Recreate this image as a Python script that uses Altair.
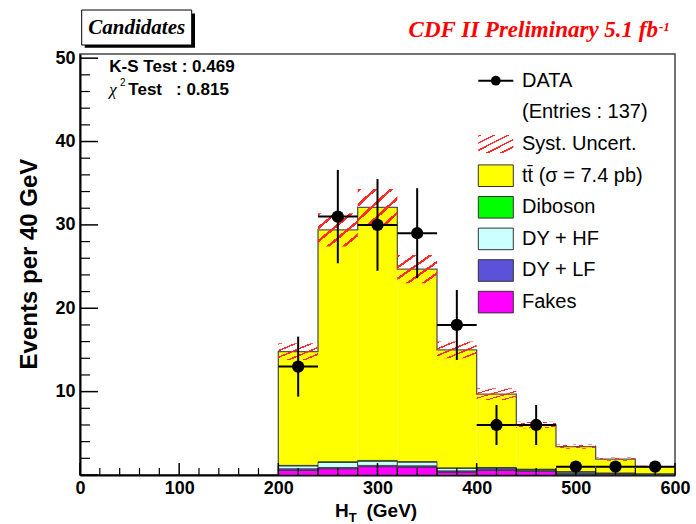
import altair as alt
import pandas as pd

# ---------------- data ----------------
bin_low = [200, 240, 280, 320, 360, 400, 440, 480, 520, 560]
bin_width = 40
data_counts = [13, 31, 30, 29, 18, 6, 6, 1, 1, 1]
data_err = [3.6, 5.6, 5.5, 5.4, 4.2, 2.4, 2.4, 0, 0, 0]

fakes = [0.55, 0.75, 1.0, 0.95, 0.35, 0.55, 0.45, 0.05, 0.03, 0.02]
dy_lf = [0.2, 0.15, 0.15, 0.15, 0.15, 0.2, 0.1, 0.15, 0.1, 0.05]
dy_hf = [0.35, 0.6, 0.5, 0.45, 0.3, 0.1, 0.1, 0.15, 0.07, 0.03]
diboson = [0.05, 0.1, 0.1, 0.05, 0.05, 0.05, 0.05, 0.05, 0.02, 0.02]
ttbar = [13.65, 27.8, 30.35, 23.1, 14.15, 8.8, 5.3, 3.0, 1.68, 0.88]
syst_unc = [1.0, 2.0, 2.2, 1.7, 1.0, 0.7, 0.4, 0.25, 0.2, 0.1]

components = ["Fakes", "DY + LF", "DY + HF", "Diboson", "ttbar"]
comp_values = [fakes, dy_lf, dy_hf, diboson, ttbar]
comp_colors = ["#ff00ff", "#5b52d9", "#ccffff", "#00ff00", "#ffff00"]

legend_labels = ["DATA", "(Entries : 137)", "Syst. Uncert.", "tt\u0304 (\u03c3 = 7.4 pb)",
                 "Diboson", "DY + HF", "DY + LF", "Fakes"]
legend_box_colors = [None, None, "hatch", "#ffff00", "#00ff00", "#ccffff", "#5b52d9", "#ff00ff"]

x_major = [0, 100, 200, 300, 400, 500, 600]
x_minor = [20, 40, 60, 80, 120, 140, 160, 180, 220, 240, 260, 280, 320, 340, 360, 380,
           420, 440, 460, 480, 520, 540, 560, 580]
y_major = [0, 10, 20, 30, 40, 50]
y_minor = [2, 4, 6, 8, 12, 14, 16, 18, 22, 24, 26, 28, 32, 34, 36, 38, 42, 44, 46, 48]
y_labels = [10, 20, 30, 40, 50]

# ---------------- layout / style ----------------
W, H = 595, 421
SANS = "Liberation Sans"
SERIF = "Liberation Serif"
RED = "#ff2a2a"

xs = alt.Scale(domain=[0, 600], nice=False, zero=False)
ys = alt.Scale(domain=[0, 50.5], nice=False, zero=False)
xaxis = alt.Axis(values=x_major, title="", ticks=False, grid=False, format="d", labelFlush=False,
                 labelOverlap=False,
                 labelFont=SANS, labelFontSize=18, labelFontWeight="bold", labelColor="black",
                 labelPadding=4, domainColor="black", domainWidth=2)
yaxis = alt.Axis(values=y_labels, title="", ticks=False, grid=False, format="d", labelFlush=False,
                 labelOverlap=False,
                 labelFont=SANS, labelFontSize=18, labelFontWeight="bold", labelColor="black",
                 labelPadding=5, domainColor="black", domainWidth=2)

def X(field):
    return alt.X(field, scale=xs, axis=xaxis)

def Y(field):
    return alt.Y(field, scale=ys, axis=yaxis)

# hatch pattern as a striped linear gradient
N = 5
stops = []
for k in range(N):
    a = k / N
    b = (k + 0.24) / N
    c = (k + 1) / N
    stops += [{"offset": a, "color": RED}, {"offset": b, "color": RED},
              {"offset": b, "color": "rgba(255,255,255,0)"}, {"offset": c, "color": "rgba(255,255,255,0)"}]
hatch = {"gradient": "linear", "x1": 0, "y1": 0, "x2": 1, "y2": 1, "stops": stops}

# ---------------- tables ----------------
rows = []
cum = [0.0] * len(bin_low)
for comp, vals in zip(components, comp_values):
    for i, lo in enumerate(bin_low):
        rows.append({"lo": lo, "hi": lo + bin_width, "y0": cum[i], "y1": cum[i] + vals[i], "comp": comp})
        cum[i] += vals[i]
stack_df = pd.DataFrame(rows)
total = cum

step_x = [bin_low[0]] + bin_low + [bin_low[-1] + bin_width]
step_y = [0] + total + [total[-1]]
step_df = pd.DataFrame({"x": step_x, "y": step_y, "i": list(range(len(step_x)))})

band_df = pd.DataFrame({
    "lo": bin_low,
    "hi": [b + bin_width for b in bin_low],
    "ylo": [t - s for t, s in zip(total, syst_unc)],
    "yhi": [t + s for t, s in zip(total, syst_unc)],
})

data_df = pd.DataFrame({
    "lo": bin_low,
    "hi": [b + bin_width for b in bin_low],
    "c": [b + bin_width / 2 for b in bin_low],
    "n": data_counts,
    "elo": [n - e for n, e in zip(data_counts, data_err)],
    "ehi": [n + e for n, e in zip(data_counts, data_err)],
    "e": data_err,
})

one = alt.Data(values=[{"a": 0}])

# ---------------- layers ----------------
layers = []

lower = stack_df[stack_df.comp != "ttbar"]
upper = stack_df[stack_df.comp == "ttbar"]
color_scale = alt.Scale(domain=components, range=comp_colors)

layers.append(alt.Chart(upper).mark_rect(strokeWidth=0).encode(
    x=X("lo:Q"), x2="hi:Q", y=Y("y0:Q"), y2="y1:Q",
    fill=alt.Fill("comp:N", scale=color_scale, legend=None)))
layers.append(alt.Chart(lower).mark_rect(stroke="#333333", strokeWidth=0.8).encode(
    x=X("lo:Q"), x2="hi:Q", y=Y("y0:Q"), y2="y1:Q",
    fill=alt.Fill("comp:N", scale=color_scale, legend=None)))

layers.append(alt.Chart(step_df).mark_line(interpolate="step-after", color="#555555", strokeWidth=1.3).encode(
    x=X("x:Q"), y=Y("y:Q"), order="i:Q"))

layers.append(alt.Chart(band_df).mark_rect(fill=hatch, strokeWidth=0).encode(
    x=X("lo:Q"), x2="hi:Q", y=Y("ylo:Q"), y2="yhi:Q"))

# axis ticks (inside the frame)
layers.append(alt.Chart(pd.DataFrame({"v": x_major})).mark_rule(color="black", strokeWidth=1.5).encode(
    x=X("v:Q"), y=alt.value(H), y2=alt.value(H - 12)))
layers.append(alt.Chart(pd.DataFrame({"v": x_minor})).mark_rule(color="black", strokeWidth=1.2).encode(
    x=X("v:Q"), y=alt.value(H), y2=alt.value(H - 7)))
layers.append(alt.Chart(pd.DataFrame({"v": y_major})).mark_rule(color="black", strokeWidth=1.5).encode(
    y=Y("v:Q"), x=alt.value(0), x2=alt.value(18)))
layers.append(alt.Chart(pd.DataFrame({"v": y_minor})).mark_rule(color="black", strokeWidth=1.2).encode(
    y=Y("v:Q"), x=alt.value(0), x2=alt.value(10)))

# data with error bars
layers.append(alt.Chart(data_df).mark_rule(color="black", strokeWidth=2).encode(
    x=X("lo:Q"), x2="hi:Q", y=Y("n:Q")))
layers.append(alt.Chart(data_df[data_df.e > 0]).mark_rule(color="black", strokeWidth=2).encode(
    x=X("c:Q"), y=Y("elo:Q"), y2="ehi:Q"))
layers.append(alt.Chart(data_df).mark_point(filled=True, shape="circle", size=150, color="black", opacity=1).encode(
    x=X("c:Q"), y=Y("n:Q")))

# ---------------- legend ----------------
LX0, LX1, LT = 398.3, 433.3, 442
for i, (lab, col) in enumerate(zip(legend_labels, legend_box_colors)):
    base = 32.7 + 31.6 * i
    mid = base - 5.8
    layers.append(alt.Chart(one).mark_text(text=lab, align="left", baseline="alphabetic",
                                           font=SANS, fontSize=20, color="black").encode(
        x=alt.value(LT), y=alt.value(base)))
    if col == "hatch":
        layers.append(alt.Chart(one).mark_rect(fill=hatch, strokeWidth=0).encode(
            x=alt.value(LX0), x2=alt.value(LX1), y=alt.value(mid - 9), y2=alt.value(mid + 9)))
    elif col is not None:
        layers.append(alt.Chart(one).mark_rect(fill=col, stroke="#333333", strokeWidth=1).encode(
            x=alt.value(LX0), x2=alt.value(LX1), y=alt.value(mid - 10.8), y2=alt.value(mid + 10.8)))
layers.append(alt.Chart(one).mark_rule(color="black", strokeWidth=2).encode(
    x=alt.value(LX0), x2=alt.value(LX1), y=alt.value(26.7)))
layers.append(alt.Chart(one).mark_point(filled=True, shape="circle", size=95, color="black", opacity=1).encode(
    x=alt.value((LX0 + LX1) / 2), y=alt.value(26.7)))

# ---------------- texts ----------------
def txt(s, x, y, size, weight="normal", style="normal", font=SANS, color="black", align="left", angle=0):
    return alt.Chart(one).mark_text(text=s, align=align, baseline="alphabetic", font=font,
                                    fontSize=size, fontWeight=weight, fontStyle=style,
                                    color=color, angle=angle).encode(x=alt.value(x), y=alt.value(y))

layers.append(txt("K-S Test : 0.469", 29.3, 17.7, 17, "bold"))
layers.append(txt("\u03c7", 29.3, 41, 17, style="italic", font=SERIF))
layers.append(txt("2", 40, 32, 10))
layers.append(txt("Test", 48.3, 41, 17, "bold"))
layers.append(txt(": 0.815", 96, 41, 17, "bold"))

# title box "Candidates"
layers.append(alt.Chart(one).mark_rect(fill="black").encode(
    x=alt.value(4.7), x2=alt.value(115), y=alt.value(-40.5), y2=alt.value(-6.3)))
layers.append(alt.Chart(one).mark_rect(fill="white", stroke="black", strokeWidth=1).encode(
    x=alt.value(1.7), x2=alt.value(111.7), y=alt.value(-44), y2=alt.value(-9)))
layers.append(txt("Candidates", 56.7, -20, 21, "bold", "italic", SERIF, align="center"))

layers.append(txt("CDF II Preliminary 5.1 fb", 578, -17, 23, "bold", "italic", SERIF, color="#ff0000", align="right"))
layers.append(txt("-1", 579, -23, 13, "bold", "italic", SERIF, color="#ff0000"))

# axis titles
layers.append(txt("H", 255, 462.7, 19, "bold"))
layers.append(txt("T", 268.7, 467.5, 13, "bold"))
layers.append(txt("(GeV)", 286.5, 462.7, 19, "bold"))
layers.append(txt("Events per 40 GeV", -43.5, 210, 24, "bold", align="center", angle=270))

chart = alt.layer(*layers).properties(
    width=W, height=H,
    padding={"left": 80, "top": 54, "right": 21, "bottom": 49},
    autosize=alt.AutoSizeParams(type="none"),
    background="white",
).configure_view(stroke="#444444", strokeWidth=1.5)

chart.save("out.html", embed_options={"renderer": "svg", "actions": False})
